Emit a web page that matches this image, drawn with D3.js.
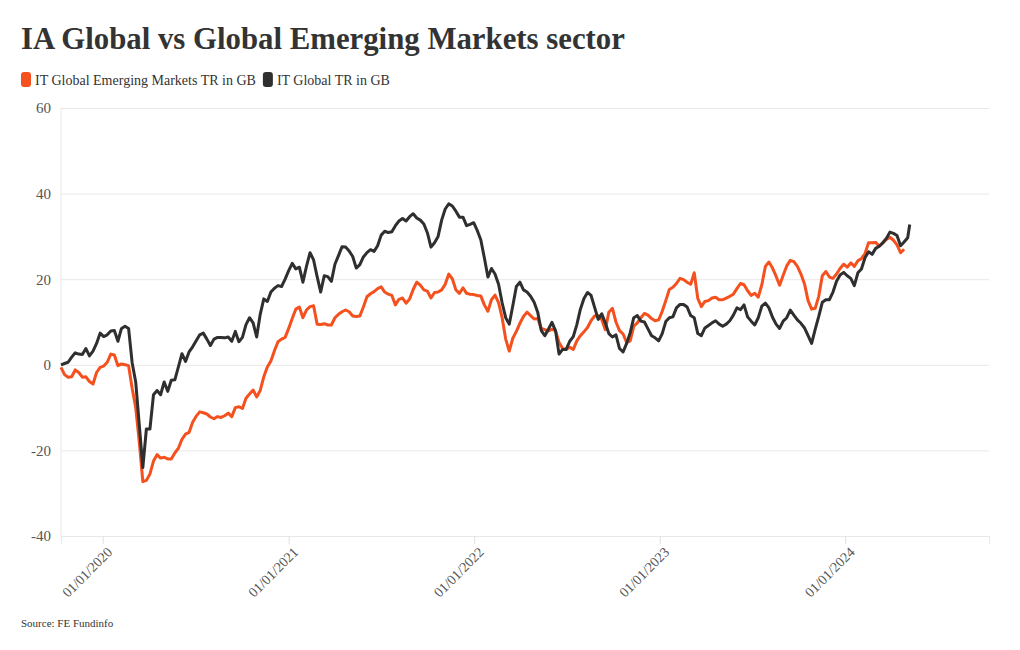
<!DOCTYPE html>
<html><head><meta charset="utf-8">
<script src="https://cdn.jsdelivr.net/npm/d3@7"></script>
<style>body{margin:0;background:#fff}svg{display:block}</style>
</head><body><svg id="c" width="1020" height="650"></svg>
<script>
const dates = [
"2019-10-11","2019-10-18","2019-10-25","2019-11-01","2019-11-08","2019-11-15","2019-11-22","2019-11-29","2019-12-06","2019-12-13","2019-12-20","2019-12-27",
"2020-01-03","2020-01-10","2020-01-17","2020-01-24","2020-01-31","2020-02-07","2020-02-14","2020-02-21","2020-02-28","2020-03-06","2020-03-13","2020-03-20","2020-03-27","2020-04-03","2020-04-10","2020-04-17","2020-04-24","2020-05-01","2020-05-08","2020-05-15","2020-05-22","2020-05-29","2020-06-05","2020-06-12","2020-06-19","2020-06-26","2020-07-03","2020-07-10","2020-07-17","2020-07-24","2020-07-31","2020-08-07","2020-08-14","2020-08-21","2020-08-28","2020-09-04","2020-09-11","2020-09-18","2020-09-25","2020-10-02","2020-10-09","2020-10-16","2020-10-23","2020-10-30","2020-11-06","2020-11-13","2020-11-20","2020-11-27","2020-12-04","2020-12-11","2020-12-18","2020-12-25",
"2021-01-01","2021-01-08","2021-01-15","2021-01-22","2021-01-29","2021-02-05","2021-02-12","2021-02-19","2021-02-26","2021-03-05","2021-03-12","2021-03-19","2021-03-26","2021-04-02","2021-04-09","2021-04-16","2021-04-23","2021-04-30","2021-05-07","2021-05-14","2021-05-21","2021-05-28","2021-06-04","2021-06-11","2021-06-18","2021-06-25","2021-07-02","2021-07-09","2021-07-16","2021-07-23","2021-07-30","2021-08-06","2021-08-13","2021-08-20","2021-08-27","2021-09-03","2021-09-10","2021-09-17","2021-09-24","2021-10-01","2021-10-08","2021-10-15","2021-10-22","2021-10-29","2021-11-05","2021-11-12","2021-11-19","2021-11-26","2021-12-03","2021-12-10","2021-12-17","2021-12-24","2021-12-31",
"2022-01-07","2022-01-14","2022-01-21","2022-01-28","2022-02-04","2022-02-11","2022-02-18","2022-02-25","2022-03-04","2022-03-11","2022-03-18","2022-03-25","2022-04-01","2022-04-08","2022-04-15","2022-04-22","2022-04-29","2022-05-06","2022-05-13","2022-05-20","2022-05-27","2022-06-03","2022-06-10","2022-06-17","2022-06-24","2022-07-01","2022-07-08","2022-07-15","2022-07-22","2022-07-29","2022-08-05","2022-08-12","2022-08-19","2022-08-26","2022-09-02","2022-09-09","2022-09-16","2022-09-23","2022-09-30","2022-10-07","2022-10-14","2022-10-21","2022-10-28","2022-11-04","2022-11-11","2022-11-18","2022-11-25","2022-12-02","2022-12-09","2022-12-16","2022-12-23","2022-12-30",
"2023-01-06","2023-01-13","2023-01-20","2023-01-27","2023-02-03","2023-02-10","2023-02-17","2023-02-24","2023-03-03","2023-03-10","2023-03-17","2023-03-24","2023-03-31","2023-04-07","2023-04-14","2023-04-21","2023-04-28","2023-05-05","2023-05-12","2023-05-19","2023-05-26","2023-06-02","2023-06-09","2023-06-16","2023-06-23","2023-06-30","2023-07-07","2023-07-14","2023-07-21","2023-07-28","2023-08-04","2023-08-11","2023-08-18","2023-08-25","2023-09-01","2023-09-08","2023-09-15","2023-09-22","2023-09-29","2023-10-06","2023-10-13","2023-10-20","2023-10-27","2023-11-03","2023-11-10","2023-11-17","2023-11-24","2023-12-01","2023-12-08","2023-12-15","2023-12-22","2023-12-29",
"2024-01-05","2024-01-12","2024-01-19","2024-01-26","2024-02-02","2024-02-09","2024-02-16","2024-02-23","2024-03-01","2024-03-08","2024-03-15","2024-03-22","2024-03-29","2024-04-05","2024-04-12","2024-04-19","2024-04-26","2024-05-03","2024-05-07"
];
const emergingTR = [
-0.6,-2.3,-2.9,-2.8,-1.2,-1.8,-2.9,-2.8,-3.9,-4.5,-1.8,-0.6,
-0.3,0.6,2.5,2.3,-0.2,0.2,0,-0.2,-5.5,-10,-18,-27.3,-27,-25.5,-22.5,-21,-21.8,-21.6,-22,-22,-20.6,-19.5,-17.4,-16.2,-15.8,-13.4,-12,-11,-11.2,-11.5,-12.2,-12.6,-12.1,-12.3,-11.9,-11.3,-12.1,-10,-9.8,-10.2,-7.8,-6.8,-5.9,-7.5,-6,-2.8,-0.5,0.9,3.3,5.4,6,6.4,
8.5,10.8,13,13.5,11,12.8,13.6,13.8,9.5,9.4,9.6,9.3,9.3,11,11.8,12.4,12.8,12.4,11.4,11.3,11.4,13.5,15.9,16.6,17.1,17.8,18.2,17,16.5,16.2,14,15.3,15.6,14.4,15.4,17.6,19.3,18.6,17.5,17.2,15.6,16.9,17,17.5,18.8,21.2,20.1,17.5,16.7,18,16.7,16.5,16.4,
16.2,16.1,14,12.5,15.2,16.3,14.5,11,6,3.2,6.2,7.8,9.7,11.3,12.3,11.5,10.7,10.8,8.5,8.2,7.9,8.3,8,5.2,3.8,3.6,4.1,3.6,5.6,6.8,7.7,8.7,10.3,11.4,11.5,10.6,8.2,12.3,13.2,10,8,7.2,5.2,5.6,9,9.8,11,12,11.6,10.8,10.3,10.5,
12.5,15,17.6,18.1,19,20.2,19.9,19.3,18.8,21.5,15.5,13.6,14.8,15,15.6,15.8,15.2,15.2,15.6,16,16.5,17.8,19,18.7,17.3,16.2,16.7,15.8,18.7,23,24,22.6,20.7,18.6,20.9,23.1,24.4,24.1,23,21.2,18.9,15,13,13.2,16,20.8,21.8,20.5,20.2,21.2,22.5,23.5,
22.8,23.8,23,24.3,24.8,26,28.5,28.5,28.6,27.7,28.5,29.3,29.8,29.1,28,26.2,27,null,null
];
const globalTR = [
0,0.3,0.6,1.8,2.8,2.5,2.4,3.8,2.1,3.2,5.0,7.4,
6.6,7.0,7.9,8.0,5.5,8.5,9.0,8.5,0.5,-4,-14,-24,-15,-15,-7,-6,-7,-4,-6.2,-3.6,-3.5,-0.5,2.6,0.8,3,4.2,5.6,7,7.4,6,4.5,6,6.4,6.4,6.3,6.5,5.5,7.8,5.4,6.4,9.4,11,9.8,6.5,11.8,15.4,14.8,17,17.9,18.5,18.3,20,
22,23.7,22.4,22.8,19.3,23,26.2,24.5,20.6,17,20.8,20.6,19.5,23.5,25.5,27.6,27.5,26.6,25.3,22.6,23.4,25.2,26.2,26.9,26.5,27.8,30.3,31.2,30.9,31.1,32.5,33.6,34.2,33.6,34.6,35.3,34.3,33.8,32.9,30.8,27.5,28.5,30,33.8,36.4,37.6,37.1,35.9,34.5,34.5,32.5,32.8,33.2,
31.4,29.2,25,20.5,22.5,21.2,18.8,14.5,11,9.5,13.8,18.3,19.3,17.5,17,16,14.6,12.3,8,6.8,8.3,9.9,8,2.5,3.6,3.6,5.5,6.6,9.4,13,15.5,16.9,16.2,13.4,10.6,11.9,9.8,7.3,6.5,7,3.8,3,5,7.5,11,11.5,10.2,10,8.4,6.8,6.3,5.6,
7.3,10.1,11,11.2,13.3,14.1,14.1,13.5,11.5,11,7.3,6.8,8.6,9.2,9.8,10.3,9.5,9,9.5,10.3,11.6,13.3,12.9,14,11.2,10.2,9.3,11,13.7,14.4,13.3,11.1,9.5,8.5,10.2,11,12.8,11.6,10.5,9.7,8.6,6.8,5,8.3,11.3,14.6,15.2,15.2,17,19.5,21,21.6,
20.8,20.2,18.5,21.5,22.4,25,26.4,25.8,27.2,27.7,28.5,29.5,31,30.7,30.2,27.8,28.7,29.7,32.8
];
const seriesNames = ["IT Global Emerging Markets TR in GB", "IT Global TR in GB"];
const seriesColors = ["#f4511e", "#2f2f2f"];
const yTicks = [-40, -20, 0, 20, 40, 60];
const xTicks = ["2020-01-01", "2021-01-01", "2022-01-01", "2023-01-01", "2024-01-01"];
const xDomain = ["2019-10-11", "2024-10-10"];

const FONT = "'Liberation Serif','Times New Roman',serif";
const parse = d3.utcParse("%Y-%m-%d");
const svg = d3.select("#c").style("font-family", FONT);
const L = 61, R = 989, T = 108, B = 536;

const x = d3.scaleUtc().domain(xDomain.map(parse)).range([L, R]);
const y = d3.scaleLinear().domain([-40, 60]).range([B, T]);

// title
svg.append("text").attr("x", 21).attr("y", 49).attr("font-size", 30.8).attr("font-weight", "bold")
  .attr("fill", "#333").text("IA Global vs Global Emerging Markets sector");

// legend
let lx = 21;
seriesNames.forEach((n, i) => {
  svg.append("rect").attr("x", lx).attr("y", 72).attr("width", 10).attr("height", 15).attr("rx", 3)
    .attr("fill", seriesColors[i]);
  const t = svg.append("text").attr("x", lx + 14).attr("y", 84.5).attr("font-size", 14).attr("fill", "#333").text(n);
  lx += 14 + t.node().getComputedTextLength() + 7;
});

// y axis + grid
const gy = svg.append("g").attr("transform", `translate(${L},0)`)
  .call(d3.axisLeft(y).tickValues(yTicks).tickSize(-(R - L)).tickPadding(10).tickFormat(d => String(d)));
gy.select(".domain").remove();
gy.selectAll(".tick line").attr("stroke", "#e8e8e8");
gy.selectAll(".tick text").attr("font-size", 15).attr("fill", "#555").attr("font-family", FONT);
svg.append("line").attr("x1", L).attr("x2", L).attr("y1", T).attr("y2", B).attr("stroke", "#e8e8e8");

// x axis
const gx = svg.append("g").attr("transform", `translate(0,${B})`)
  .call(d3.axisBottom(x).tickValues(xTicks.map(parse)).tickSize(8).tickFormat(d3.utcFormat("%d/%m/%Y")));
gx.select(".domain").attr("stroke", "#e8e8e8");
gx.selectAll(".tick line").attr("stroke", "#e0e0e0");
gx.selectAll(".tick text").attr("font-size", 14).attr("fill", "#555").attr("font-family", FONT)
  .attr("x", 0).attr("y", 0).attr("dy", 0).attr("text-anchor", "end")
  .attr("transform", "translate(10,17) rotate(-45)");

// lines
const pts = v => dates.map((d, i) => ({ d: parse(d), v: v[i] }));
const line = d3.line().defined(p => p.v !== null).x(p => x(p.d)).y(p => y(p.v)).curve(d3.curveLinear);
[emergingTR, globalTR].forEach((s, i) => {
  svg.append("path").datum(pts(s)).attr("d", line).attr("fill", "none")
    .attr("stroke", seriesColors[i]).attr("stroke-width", 3).attr("stroke-linejoin", "round");
});

// source
svg.append("text").attr("x", 21).attr("y", 627).attr("font-size", 11).attr("fill", "#333").text("Source: FE Fundinfo");
</script></body></html>
